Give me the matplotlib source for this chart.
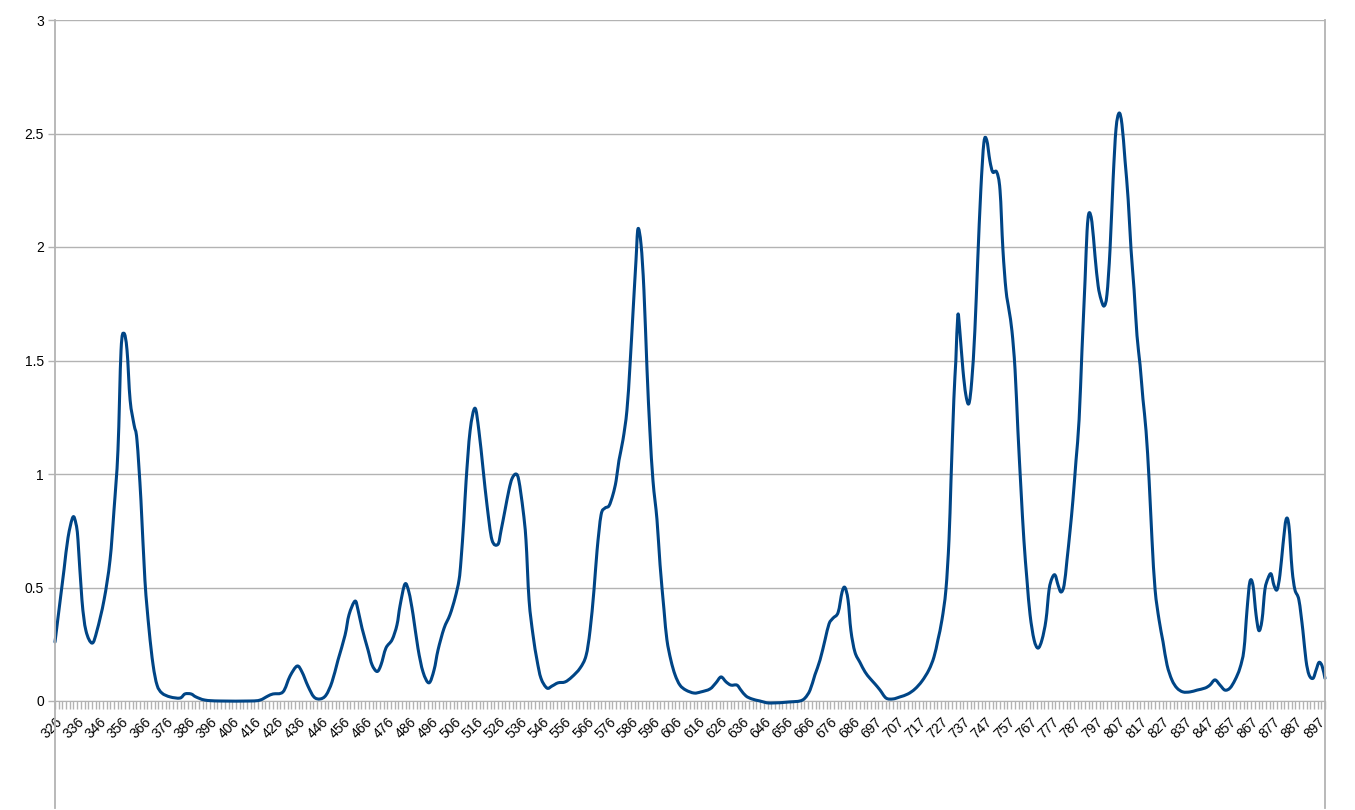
import matplotlib.pyplot as plt
from matplotlib.lines import Line2D
from matplotlib.path import Path
from matplotlib.patches import PathPatch
from matplotlib.ticker import FixedLocator

# category axis: 345 wavelengths, one every ~1.67 nm
first_wl = 325.5
wl_step = 1.67125
n_categories = 345
label_every = 6
tick_labels = ["326", "336", "346", "356", "366", "376", "386", "396", "406", "416",
               "426", "436", "446", "456", "466", "476", "486", "496", "506", "516",
               "526", "536", "546", "556", "566", "576", "586", "596", "606", "616",
               "626", "636", "646", "656", "666", "676", "686", "697", "707", "717",
               "727", "737", "747", "757", "767", "777", "787", "797", "807", "817",
               "827", "837", "847", "857", "867", "877", "887", "897"]

# spectrum (wavelength, value)
wavelength = [
    325.5, 327.8, 329.6, 331.4, 333.6, 335.0, 335.9, 337.7, 339.5, 342.3,
    344.5, 347.7, 350.4, 352.2, 354.0, 355.4, 356.7, 358.1, 359.5, 361.3,
    362.6, 364.4, 366.2, 368.1, 369.9, 371.7, 373.9, 377.6, 382.1, 384.3,
    387.1, 389.3, 393.4, 400.2, 413.8, 418.3, 421.9, 424.2, 428.7, 431.9,
    435.1, 437.3, 440.0, 442.7, 445.5, 448.2, 450.9, 453.6, 456.8, 458.6,
    461.3, 462.7, 464.5, 467.2, 469.0, 471.3, 473.1, 475.3, 478.1, 480.3,
    481.7, 483.9, 485.7, 487.6, 489.8, 492.1, 494.8, 497.1, 498.9, 501.6,
    504.3, 506.6, 508.4, 509.3, 510.6, 511.6, 513.4, 515.6, 517.4, 519.3,
    521.1, 523.3, 526.0, 527.4, 529.2, 531.0, 532.4, 534.2, 535.5, 537.4,
    538.7, 540.1, 541.9, 543.7, 545.5, 548.2, 550.5, 553.2, 556.4, 559.5,
    563.2, 565.9, 567.7, 569.5, 570.9, 572.7, 574.5, 576.3, 578.1, 579.5,
    580.8, 582.6, 584.4, 585.8, 587.2, 588.5, 589.4, 590.8, 592.1, 593.5,
    594.8, 596.2, 598.0, 599.4, 601.2, 602.5, 604.3, 606.2, 608.4, 611.1,
    614.8, 617.9, 622.0, 624.7, 627.0, 629.3, 631.5, 634.2, 636.0, 638.3,
    641.0, 644.6, 649.2, 658.2, 662.7, 665.0, 667.3, 669.5, 671.8, 674.1,
    675.9, 677.7, 680.0, 681.8, 683.1, 684.5, 685.8, 687.6, 689.9, 692.2,
    694.4, 696.7, 699.0, 701.7, 704.8, 708.0, 711.6, 714.8, 718.0, 721.1,
    723.4, 725.2, 727.0, 728.8, 730.2, 731.1, 732.4, 733.3, 734.2, 735.1,
    736.5, 737.8, 739.2, 740.5, 741.9, 743.2, 744.6, 746.0, 747.3, 748.7,
    750.0, 751.8, 753.3, 754.6, 756.0, 757.4, 758.7, 760.1, 761.4, 762.8,
    764.1, 765.5, 766.9, 768.7, 770.5, 772.3, 774.1, 775.5, 776.8, 778.2,
    779.6, 780.9, 782.3, 783.6, 785.0, 786.3, 787.7, 789.1, 790.4, 791.8,
    792.7, 793.6, 794.9, 796.3, 797.7, 799.0, 800.4, 801.7, 803.1, 804.5,
    805.8, 807.2, 808.5, 809.9, 811.3, 812.6, 814.0, 815.3, 816.7, 818.0,
    819.4, 820.8, 822.1, 823.5, 825.3, 827.1, 828.9, 831.1, 833.4, 836.1,
    839.3, 842.5, 846.1, 848.3, 850.6, 852.9, 855.1, 857.4, 859.7, 861.9,
    863.7, 865.1, 866.4, 867.8, 869.2, 870.5, 871.9, 873.2, 874.6, 876.0,
    877.3, 878.7, 880.0, 881.4, 882.8, 884.1, 885.5, 886.8, 888.6, 890.4,
    891.8, 893.2, 895.0, 896.4, 897.7, 899.1, 900.4]
absorbance = [
    0.26, 0.44, 0.58, 0.72, 0.81, 0.78, 0.71, 0.445, 0.31, 0.255,
    0.31, 0.445, 0.62, 0.84, 1.105, 1.546, 1.62, 1.546, 1.326, 1.216,
    1.15, 0.885, 0.533, 0.313, 0.159, 0.07, 0.035, 0.018, 0.013, 0.031,
    0.031, 0.018, 0.004, 0.0, 0.0, 0.004, 0.022, 0.031, 0.04, 0.11,
    0.154, 0.128, 0.066, 0.018, 0.009, 0.026, 0.084, 0.18, 0.29, 0.38,
    0.44, 0.40, 0.32, 0.225, 0.16, 0.13, 0.16, 0.233, 0.27, 0.335,
    0.42, 0.515, 0.48, 0.38, 0.233, 0.128, 0.08, 0.137, 0.225, 0.32,
    0.38, 0.454, 0.533, 0.62, 0.80, 0.97, 1.19, 1.29, 1.19, 1.02,
    0.86, 0.71, 0.69, 0.75, 0.84, 0.93, 0.98, 1.0, 0.97, 0.84,
    0.71, 0.445, 0.29, 0.18, 0.10, 0.057, 0.066, 0.08, 0.084, 0.106,
    0.145, 0.20, 0.31, 0.49, 0.665, 0.82, 0.85, 0.86, 0.91, 0.97,
    1.06, 1.15, 1.28, 1.48, 1.72, 1.94, 2.08, 2.01, 1.81, 1.46,
    1.19, 0.97, 0.80, 0.60, 0.40, 0.27, 0.18, 0.115, 0.07, 0.048,
    0.035, 0.04, 0.053, 0.08, 0.106, 0.084, 0.07, 0.07, 0.048, 0.022,
    0.009, 0.0, -0.009, -0.004, 0.0, 0.013, 0.048, 0.115, 0.18, 0.27,
    0.34, 0.365, 0.39, 0.48, 0.50, 0.445, 0.31, 0.216, 0.17, 0.128,
    0.10, 0.075, 0.048, 0.013, 0.009, 0.018, 0.031, 0.053, 0.088, 0.137,
    0.194, 0.27, 0.357, 0.49, 0.71, 0.97, 1.33, 1.50, 1.70, 1.63,
    1.46, 1.35, 1.31, 1.41, 1.63, 1.94, 2.25, 2.46, 2.47, 2.38,
    2.33, 2.33, 2.25, 1.99, 1.81, 1.72, 1.63, 1.46, 1.19, 0.93,
    0.71, 0.533, 0.38, 0.27, 0.233, 0.27, 0.357, 0.49, 0.54, 0.555,
    0.51, 0.48, 0.51, 0.62, 0.75, 0.885, 1.06, 1.24, 1.546, 1.855,
    2.07, 2.15, 2.11, 1.96, 1.83, 1.77, 1.74, 1.79, 1.99, 2.30,
    2.52, 2.59, 2.54, 2.38, 2.21, 1.99, 1.81, 1.61, 1.48, 1.33,
    1.19, 0.97, 0.71, 0.49, 0.357, 0.26, 0.159, 0.093, 0.057, 0.04,
    0.04, 0.048, 0.057, 0.07, 0.093, 0.07, 0.048, 0.057, 0.093, 0.145,
    0.225, 0.40, 0.525, 0.51, 0.38, 0.31, 0.357, 0.49, 0.54, 0.56,
    0.51, 0.49, 0.555, 0.69, 0.80, 0.77, 0.58, 0.49, 0.445, 0.31,
    0.18, 0.115, 0.10, 0.137, 0.17, 0.154, 0.10]

y_ticks = [0, 0.5, 1, 1.5, 2, 2.5, 3]
y_tick_labels = ["0", "0.5", "1", "1.5", "2", "2.5", "3"]

line_color = "#004586"
grid_color = "#b3b3b3"


def smooth_path(xs, ys):
    # Catmull-Rom through the points, drawn as cubic bezier segments
    # (like the "smooth line" option of the original chart)
    pts = list(zip(xs, ys))
    verts = [pts[0]]
    codes = [Path.MOVETO]
    n = len(pts)
    for i in range(n - 1):
        p0 = pts[i - 1] if i > 0 else pts[i]
        p1 = pts[i]
        p2 = pts[i + 1]
        p3 = pts[i + 2] if i + 2 < n else pts[i + 1]
        c1 = (p1[0] + (p2[0] - p0[0]) / 6, p1[1] + (p2[1] - p0[1]) / 6)
        c2 = (p2[0] - (p3[0] - p1[0]) / 6, p2[1] - (p3[1] - p1[1]) / 6)
        verts += [c1, c2, p2]
        codes += [Path.CURVE4] * 3
    return Path(verts, codes)


plt.rcParams['font.family'] = ['Liberation Sans', 'DejaVu Sans']

W, H = 1355, 810
fig = plt.figure(figsize=(W / 100, H / 100), dpi=100)
ax = fig.add_axes([55 / W, 1 - 701 / H, 1270 / W, 681 / H])

spectrum = PathPatch(smooth_path(wavelength, absorbance), facecolor='none',
                     edgecolor=line_color, linewidth=2.2, joinstyle='round',
                     capstyle='round', clip_on=False, zorder=3)
ax.add_patch(spectrum)

categories = [first_wl + i * wl_step for i in range(n_categories)]
ax.set_xlim(categories[0], categories[-1])
ax.set_ylim(0, 3)

ax.set_yticks(y_ticks)
ax.set_yticklabels(y_tick_labels)
ax.xaxis.set_major_locator(FixedLocator(categories[::label_every][:len(tick_labels)]))
ax.set_xticklabels(tick_labels, rotation=45, ha='right', va='top', rotation_mode='anchor')
ax.xaxis.set_minor_locator(FixedLocator(categories))

ax.tick_params(axis='x', which='both', direction='out', length=6, width=1,
               color=grid_color, labelsize=10, pad=4)
ax.tick_params(axis='y', which='major', direction='out', length=5, width=1,
               color=grid_color, labelsize=10, pad=3)

ax.grid(axis='y', color=grid_color, linewidth=1)
ax.set_axisbelow(True)
for side in ['top', 'right', 'left']:
    ax.spines[side].set_visible(False)
ax.spines['bottom'].set_color(grid_color)

# the chart wall borders run down past the category labels
for xp in (55, 1325):
    fig.add_artist(Line2D([xp / W, xp / W], [1 - 20 / H, 1 - 808 / H],
                          color=grid_color, linewidth=1.3, transform=fig.transFigure))

fig.savefig("out.png", dpi=100)
